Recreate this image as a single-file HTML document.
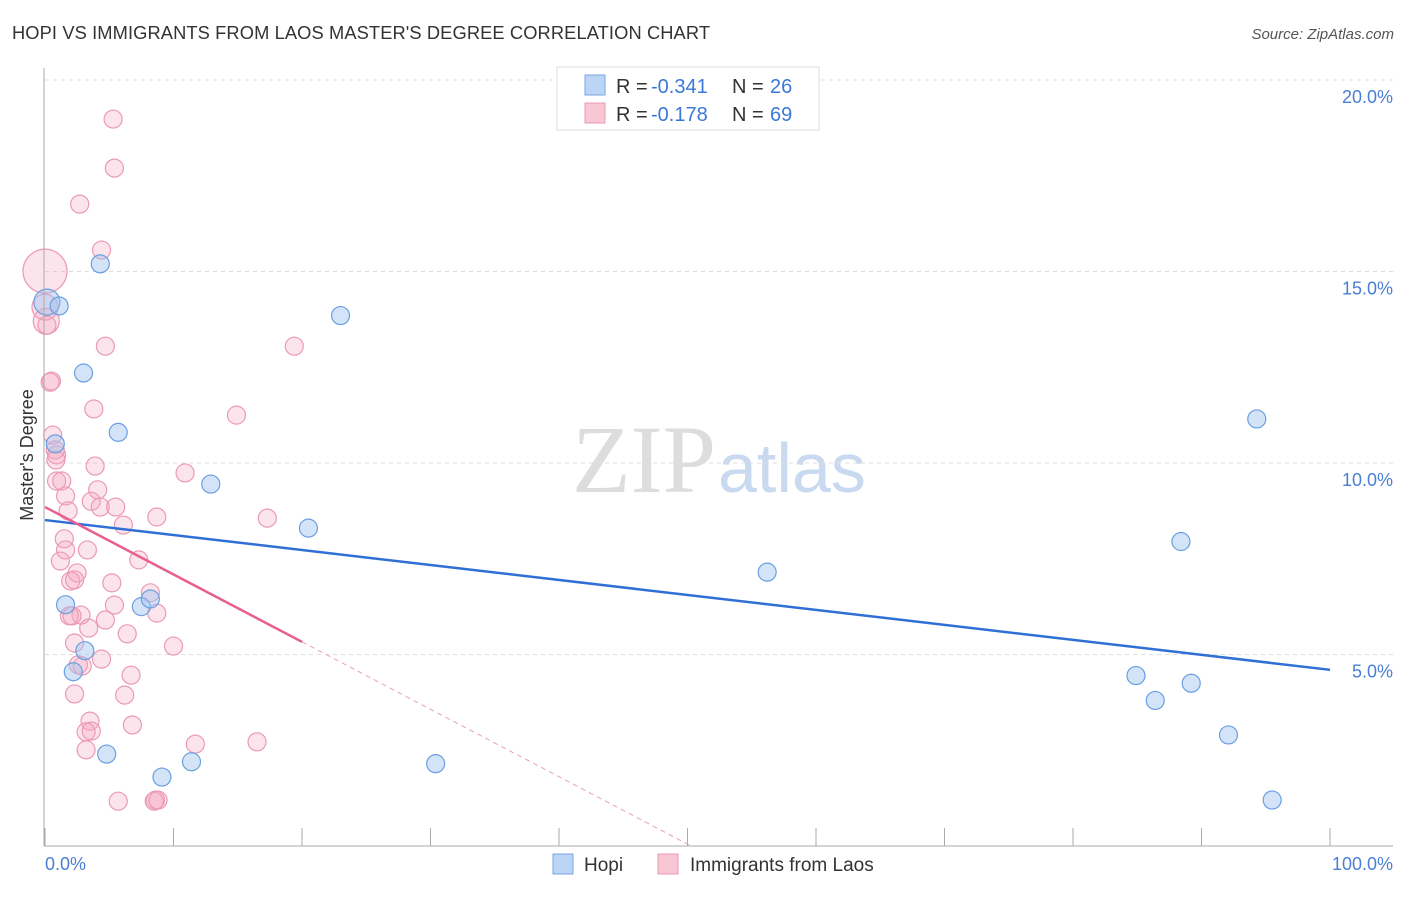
<!DOCTYPE html>
<html><head><meta charset="utf-8"><style>
body{margin:0;background:#fff;font-family:"Liberation Sans",sans-serif}
svg text{font-family:"Liberation Sans",sans-serif}
</style></head><body>
<svg id="c" width="1406" height="892">
<text x="12" y="39" font-size="18.3" fill="#333" textLength="698">HOPI VS IMMIGRANTS FROM LAOS MASTER'S DEGREE CORRELATION CHART</text>
<text x="1394" y="39" font-size="15" fill="#555" font-style="italic" text-anchor="end">Source: ZipAtlas.com</text>
<text x="716" y="492" font-size="96" fill="#ddd" text-anchor="end" style="font-family:'Liberation Serif',serif">ZIP</text>
<text x="718" y="492" font-size="70" fill="#c9d9f0">atlas</text>
<g id="grid"></g><g id="pts"></g><g id="lines"></g>
<line x1="44" y1="68" x2="44" y2="846" stroke="#aaa"/>
<line x1="44" y1="846" x2="1393" y2="846" stroke="#aaa"/>
<text x="33" y="455" font-size="18" fill="#333" text-anchor="middle" transform="rotate(-90 33 455)">Master's Degree</text>
<text x="45" y="870" font-size="18" fill="#4a7fd4">0.0%</text>
<text x="1393" y="870" font-size="18" fill="#4a7fd4" text-anchor="end">100.0%</text>
<g>
<rect x="557" y="67" width="262" height="63" fill="#fff" stroke="#ddd"/>
<rect x="585" y="75" width="20" height="20" fill="#bcd4f5" stroke="#7aa6e6"/>
<rect x="585" y="103" width="20" height="20" fill="#f9c6d6" stroke="#eb9ab4"/>
<text x="616" y="93" font-size="20" fill="#333">R =</text>
<text x="651" y="93" font-size="20" fill="#3c78d8">-0.341</text>
<text x="732" y="93" font-size="20" fill="#333">N =</text>
<text x="770" y="93" font-size="20" fill="#3c78d8">26</text>
<text x="616" y="121" font-size="20" fill="#333">R =</text>
<text x="651" y="121" font-size="20" fill="#3c78d8">-0.178</text>
<text x="732" y="121" font-size="20" fill="#333">N =</text>
<text x="770" y="121" font-size="20" fill="#3c78d8">69</text>
</g>
<g>
<rect x="553" y="854" width="20" height="20" fill="#bcd4f5" stroke="#7aa6e6"/>
<text x="584" y="871" font-size="19" fill="#333">Hopi</text>
<rect x="658" y="854" width="20" height="20" fill="#f9c6d6" stroke="#eb9ab4"/>
<text x="690" y="871" font-size="19" fill="#333">Immigrants from Laos</text>
</g>
</svg>
<script>
const yTicks=[5,10,15,20];
const xTicks=[0,10,20,30,40,50,60,70,80,90,100];
const hopiX=[4.3,0.15,1.1,3.0,0.8,5.7,12.9,20.5,23.0,56.2,94.3,88.4,84.9,86.4,89.2,92.1,95.5,1.6,7.5,8.2,3.1,2.2,4.8,9.1,11.4,30.4];
const hopiY=[15.2,14.2,14.1,12.35,10.5,10.8,9.45,8.3,13.85,7.15,11.15,7.95,4.45,3.8,4.25,2.9,1.2,6.3,6.25,6.45,5.1,4.55,2.4,1.8,2.2,2.15];
const laosX=[5.3,5.4,2.7,4.4,0,0,0.1,4.7,19.4,0.5,0.4,3.8,14.9,0.6,0.8,0.9,0.85,3.9,10.9,0.9,1.3,1.6,4.1,3.6,4.3,5.5,1.8,8.7,17.3,6.1,1.5,1.6,3.3,7.3,1.2,2.5,2.0,2.3,5.2,8.2,5.4,2.8,1.9,2.1,8.7,4.7,3.4,6.4,2.3,10.0,4.4,2.6,2.9,6.7,2.3,6.2,3.5,6.8,3.2,3.6,3.2,11.7,16.5,5.7,8.6,8.5,8.8,0.15];
const laosY=[18.98,17.7,16.76,15.56,15.01,14.07,13.7,13.05,13.05,12.14,12.11,11.41,11.25,10.73,10.34,10.21,10.08,9.92,9.74,9.53,9.53,9.14,9.3,9.0,8.85,8.85,8.75,8.59,8.56,8.38,8.02,7.73,7.73,7.47,7.44,7.13,6.92,6.95,6.87,6.61,6.29,6.03,6.01,6.01,6.08,5.9,5.69,5.54,5.3,5.22,4.88,4.73,4.7,4.46,3.97,3.94,3.26,3.16,2.98,3.0,2.51,2.66,2.72,1.17,1.2,1.17,1.2,13.6];
const hopiTrend=[8.51,4.6];
const laosTrend=[8.85,-0.176];
const X=v=>45+v*12.85, Y=v=>846-v*38.3;
const NS="http://www.w3.org/2000/svg";
function mk(t,a,p){const e=document.createElementNS(NS,t);for(const k in a)e.setAttribute(k,a[k]);p.appendChild(e);return e;}
const grid=document.getElementById('grid');
yTicks.forEach(t=>{
 const l=mk('line',{x1:45,x2:1393,y1:Y(t),y2:Y(t),stroke:'#ddd','stroke-dasharray':'4,4'},grid);
 
 
 const tx=mk('text',{x:1393,y:Y(t)+23,'font-size':18,fill:'#4a7fd4','text-anchor':'end'},grid);
 tx.textContent=t.toFixed(1)+'%';
 
 
});
xTicks.forEach(t=>{
 const l=mk('line',{x1:X(t),x2:X(t),y1:828,y2:846,stroke:'#aaa'},grid);
 
 
});
const pts=document.getElementById('pts');
laosX.forEach((x,i)=>{
 const r=i==4?22:(i==5||i==6?13:9);
 const c=mk('circle',{cx:X(x),cy:Y(laosY[i]),r:r,fill:'rgba(245,165,192,0.3)',stroke:'#eb9ab4','stroke-width':1.2},pts);
 
 
});
hopiX.forEach((x,i)=>{
 const r=i==1?13:9;
 const c=mk('circle',{cx:X(x),cy:Y(hopiY[i]),r:r,fill:'rgba(160,196,240,0.45)',stroke:'#6a9fe0','stroke-width':1.2},pts);
 
 
});
const lines=document.getElementById('lines');
const hl=mk('line',{x1:X(0),y1:Y(hopiTrend[0]),x2:X(100),y2:Y(hopiTrend[1]),stroke:'#2f6fd6','stroke-width':2.5},lines);


const lt=x=>laosTrend[0]+laosTrend[1]*x;
const pl=mk('line',{x1:X(0),y1:Y(lt(0)),x2:X(20),y2:Y(lt(20)),stroke:'#e8608f','stroke-width':2.5},lines);


const xe=-laosTrend[0]/laosTrend[1];
const pd=mk('line',{x1:X(20),y1:Y(lt(20)),x2:X(xe),y2:Y(0),stroke:'#e8a0b8','stroke-width':1,'stroke-dasharray':'5,4'},lines);


</script>
</body></html>
